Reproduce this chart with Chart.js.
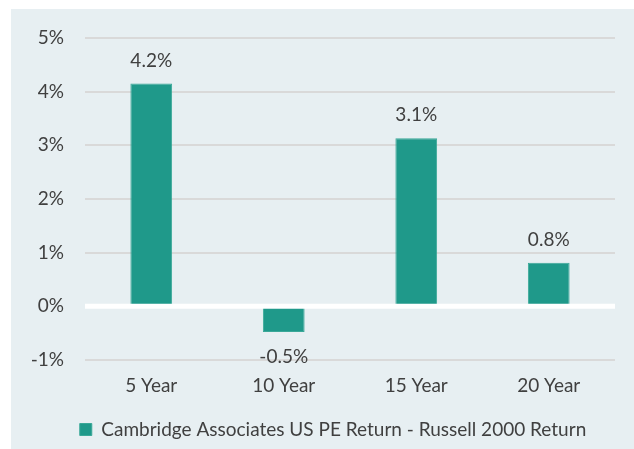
<!DOCTYPE html>
<html>
<head>
<meta charset="utf-8">
<script src="https://cdn.jsdelivr.net/npm/chart.js@4"></script>
<style>
html, body { margin: 0; padding: 0; background: #fff; overflow: hidden; }
#panel { position: absolute; left: 11px; top: 9px; width: 623px; height: 440px; background: #e7eff2; }
</style>
</head>
<body>
<div id="panel"><canvas id="myChart"></canvas></div>
<script>
'use strict';

let periods = ['5 Year', '10 Year', '15 Year', '20 Year'];
let excessReturn = [4.15, -0.48, 3.13, 0.81];
let yTicks = [-1, 0, 1, 2, 3, 4, 5];
let seriesName = 'Cambridge Associates US PE Return - Russell 2000 Return';

let barColor = '#1f998a';
let textColor = '#404040';
let fontName = 'Lato';

// white zero line on top of the bars, and the value labels
let valueLabels = {
    id: 'valueLabels',
    afterDatasetsDraw(chart) {
        let ctx = chart.ctx;
        let area = chart.chartArea;
        let y0 = chart.scales.y.getPixelForValue(0);
        ctx.save();
        ctx.strokeStyle = '#ffffff';
        ctx.lineWidth = 5;
        ctx.beginPath();
        ctx.moveTo(area.left, y0);
        ctx.lineTo(area.right, y0);
        ctx.stroke();

        ctx.font = '19px ' + fontName;
        ctx.fillStyle = textColor;
        ctx.textAlign = 'center';
        ctx.textBaseline = 'middle';
        let meta = chart.getDatasetMeta(0);
        meta.data.forEach(function(bar, i) {
            let v = excessReturn[i];
            let y = v >= 0 ? bar.y - 23 : bar.y + 25;
            ctx.fillText(v.toFixed(1) + '%', bar.x, y);
        });
        ctx.restore();
    }
};

let chartData = {
    type: 'bar',
    data: {
        labels: periods,
        datasets: [{
            label: seriesName,
            data: excessReturn,
            backgroundColor: barColor,
            borderColor: '#3aa898',
            borderWidth: 1,
            categoryPercentage: 1,
            barPercentage: 0.315
        }]
    },
    options: {
        responsive: true,
        maintainAspectRatio: false,
        animation: false,
        layout: { padding: { left: 21, right: 0, top: 29, bottom: 0 } },
        scales: {
            x: {
                grid: { display: false },
                border: { display: false },
                ticks: { color: textColor, font: { family: fontName, size: 19 }, padding: 6 },
                afterFit(s) { s.height = 58; }
            },
            y: {
                min: -1,
                max: 5,
                grid: {
                    drawTicks: true,
                    tickLength: 21,
                    tickColor: 'rgba(0,0,0,0)',
                    color: function(c) { return c.tick.value === 0 ? 'rgba(0,0,0,0)' : '#d9d9d9'; },
                    lineWidth: 2
                },
                border: { display: false },
                afterBuildTicks(s) { s.ticks = yTicks.map(function(v) { return { value: v }; }); },
                ticks: {
                    color: textColor,
                    font: { family: fontName, size: 19 },
                    padding: 0,
                    callback: function(v) { return v + '%'; }
                },
                afterFit(s) { s.width = 53; }
            },
            yPad: {
                type: 'linear',
                position: 'right',
                grid: { display: false },
                border: { display: false },
                ticks: { display: false },
                afterFit(s) { s.width = 19; }
            }
        },
        plugins: {
            legend: {
                position: 'bottom',
                labels: {
                    color: textColor,
                    font: { family: fontName, size: 19 },
                    boxWidth: 12,
                    boxHeight: 12,
                    padding: 2
                }
            },
            tooltip: { enabled: false }
        }
    },
    plugins: [valueLabels]
};

let ctx = document.getElementById('myChart').getContext('2d');
let myChart = new Chart(ctx, chartData);
</script>
</body>
</html>
